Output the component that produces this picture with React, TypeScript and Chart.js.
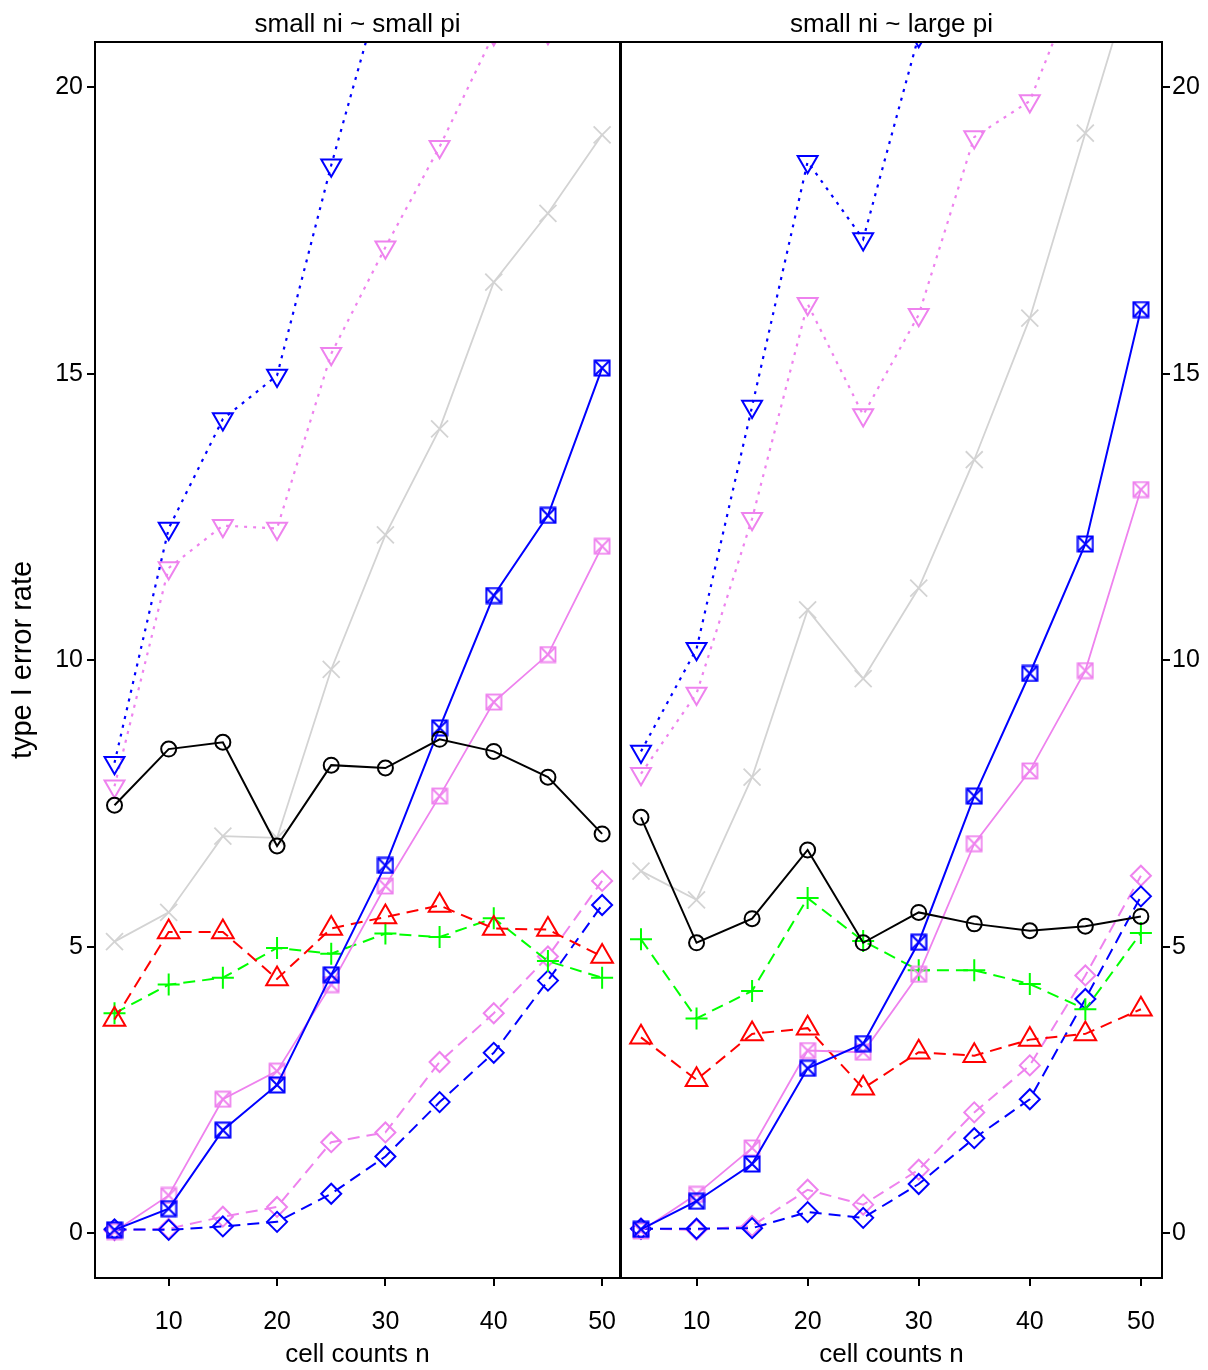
import React, { useEffect, useRef } from 'react';
import { Chart, registerables } from 'chart.js';

Chart.register(...registerables);

// ---------------- data ----------------
const cellCounts = [5, 10, 15, 20, 25, 30, 35, 40, 45, 50];
const xTickValues = [10, 20, 30, 40, 50];
const yTickValues = [0, 5, 10, 15, 20];
const panelTitles = ['small ni ~ small pi', 'small ni ~ large pi'];
const xAxisTitle = 'cell counts n';
const yAxisTitle = 'type I error rate';

// left panel: small ni ~ small pi
const leftCircle = [7.47, 8.45, 8.57, 6.76, 8.17, 8.12, 8.62, 8.41, 7.96, 6.97];
const leftCross = [5.09, 5.6, 6.93, 6.9, 9.84, 12.19, 14.04, 16.6, 17.8, 19.17];
const leftBlueDown = [8.21, 12.3, 14.21, 14.97, 18.64, 22.0, 24.1, 26.3, 27.9, 30.2];
const leftVioletDown = [7.8, 11.61, 12.35, 12.3, 15.35, 17.21, 18.96, 20.93, 20.95, 23.0];
const leftBlueSquare = [0.06, 0.43, 1.8, 2.59, 4.51, 6.42, 8.82, 11.13, 12.53, 15.1];
const leftVioletSquare = [0.03, 0.66, 2.34, 2.83, 4.34, 6.06, 7.63, 9.27, 10.1, 11.99];
const leftRedTri = [3.73, 5.26, 5.26, 4.44, 5.32, 5.52, 5.72, 5.32, 5.3, 4.83];
const leftGreenPlus = [3.84, 4.34, 4.46, 4.98, 4.88, 5.23, 5.17, 5.5, 4.75, 4.46];
const leftBlueDiamond = [0.07, 0.06, 0.12, 0.2, 0.69, 1.34, 2.29, 3.15, 4.41, 5.73];
const leftVioletDiamond = [0.05, 0.08, 0.29, 0.46, 1.59, 1.76, 2.99, 3.84, 4.83, 6.15];

// right panel: small ni ~ large pi
const rightCircle = [7.26, 5.07, 5.49, 6.69, 5.07, 5.6, 5.4, 5.28, 5.36, 5.53];
const rightCross = [6.32, 5.82, 7.96, 10.88, 9.68, 11.26, 13.5, 15.97, 19.2, 22.4];
const rightBlueDown = [8.41, 10.2, 14.43, 18.7, 17.35, 20.9, 23.5, 25.8, 27.6, 30.1];
const rightVioletDown = [8.02, 9.42, 12.47, 16.22, 14.28, 16.03, 19.13, 19.76, 22.2, 24.5];
const rightBlueSquare = [0.07, 0.56, 1.21, 2.88, 3.31, 5.08, 7.63, 9.77, 12.03, 16.12];
const rightVioletSquare = [0.04, 0.68, 1.49, 3.19, 3.16, 4.52, 6.8, 8.07, 9.82, 12.98];
const rightRedTri = [3.42, 2.68, 3.48, 3.58, 2.53, 3.16, 3.1, 3.38, 3.48, 3.91];
const rightGreenPlus = [5.13, 3.75, 4.23, 5.85, 5.1, 4.59, 4.59, 4.35, 3.91, 5.24];
const rightBlueDiamond = [0.08, 0.08, 0.09, 0.37, 0.27, 0.86, 1.66, 2.34, 4.09, 5.88];
const rightVioletDiamond = [0.08, 0.06, 0.13, 0.76, 0.5, 1.11, 2.11, 2.93, 4.5, 6.24];

// ---------------- styling ----------------
const FONT = '"Liberation Sans", Arial, Helvetica, sans-serif';
const BLUE = '#0000ff';
const VIOLET = '#ee82ee';
const RED = '#ff0000';
const GREEN = '#00ff00';
const GRAY = '#d3d3d3';
const BLACK = '#000000';
const DASHED = [12, 7];
const DOTTED = [3, 6];

function makeBoxX(color: string, lw: number): HTMLCanvasElement {
  const c = document.createElement('canvas');
  c.width = 18;
  c.height = 18;
  const g = c.getContext('2d')!;
  g.strokeStyle = color;
  g.lineWidth = lw;
  g.strokeRect(1.5, 1.5, 15, 15);
  g.beginPath();
  g.moveTo(1.5, 1.5);
  g.lineTo(16.5, 16.5);
  g.moveTo(16.5, 1.5);
  g.lineTo(1.5, 16.5);
  g.stroke();
  return c;
}

type Series = {
  values: number[];
  color: string;
  width: number;
  dash: number[];
  style: any;
  radius: number;
  rotation?: number;
  pointWidth?: number;
};

function buildDatasets(list: Series[]) {
  return list.map((s) => ({
    data: cellCounts.map((n, i) => ({ x: n, y: s.values[i] })),
    borderColor: s.color,
    borderWidth: s.width,
    borderDash: s.dash,
    backgroundColor: 'rgba(0,0,0,0)',
    pointStyle: s.style,
    pointRadius: s.radius,
    pointRotation: s.rotation || 0,
    pointBorderColor: s.color,
    pointBackgroundColor: 'rgba(0,0,0,0)',
    pointBorderWidth: s.pointWidth || s.width,
    tension: 0,
    fill: false,
  }));
}

function panelSeries(
  circle: number[], cross: number[], blueDown: number[], violetDown: number[],
  blueSq: number[], violetSq: number[], redTri: number[], greenPlus: number[],
  blueDia: number[], violetDia: number[], blueBox: HTMLCanvasElement, violetBox: HTMLCanvasElement
): Series[] {
  return [
    { values: circle, color: BLACK, width: 2, dash: [], style: 'circle', radius: 7.5 },
    { values: blueSq, color: BLUE, width: 2, dash: [], style: blueBox, radius: 8 },
    { values: violetSq, color: VIOLET, width: 1.8, dash: [], style: violetBox, radius: 8 },
    { values: redTri, color: RED, width: 2, dash: DASHED, style: 'triangle', radius: 12.5 },
    { values: greenPlus, color: GREEN, width: 2, dash: DASHED, style: 'cross', radius: 11 },
    { values: blueDia, color: BLUE, width: 2, dash: DASHED, style: 'rectRot', radius: 10 },
    { values: violetDia, color: VIOLET, width: 2, dash: DASHED, style: 'rectRot', radius: 10 },
    { values: blueDown, color: BLUE, width: 2.2, dash: DOTTED, style: 'triangle', radius: 11.5, rotation: 180, pointWidth: 2 },
    { values: violetDown, color: VIOLET, width: 2.2, dash: DOTTED, style: 'triangle', radius: 11.5, rotation: 180, pointWidth: 2 },
    { values: cross, color: GRAY, width: 1.8, dash: [], style: 'crossRot', radius: 12 },
  ];
}

function framePlugin(title: string) {
  return {
    id: 'panelFrame',
    afterDraw(chart: any) {
      const { ctx, chartArea: a } = chart;
      ctx.save();
      ctx.strokeStyle = BLACK;
      ctx.lineWidth = 2;
      ctx.setLineDash([]);
      ctx.strokeRect(a.left, a.top, a.right - a.left, a.bottom - a.top);
      ctx.font = `26px ${FONT}`;
      ctx.fillStyle = BLACK;
      ctx.textAlign = 'center';
      ctx.textBaseline = 'alphabetic';
      ctx.fillText(title, (a.left + a.right) / 2, 32);
      ctx.restore();
    },
  };
}

function makeConfig(side: 'left' | 'right', series: Series[], xMax: number) {
  const isLeft = side === 'left';
  return {
    type: 'line' as const,
    data: { datasets: buildDatasets(series) as any },
    plugins: [framePlugin(isLeft ? panelTitles[0] : panelTitles[1])],
    options: {
      responsive: false,
      animation: false as const,
      devicePixelRatio: 1,
      events: [],
      layout: {
        autoPadding: false,
        padding: isLeft ? { top: 42, right: 3, left: 0, bottom: 0 } : { top: 42, right: 0, left: 2, bottom: 0 },
      },
      plugins: { legend: { display: false }, tooltip: { enabled: false }, title: { display: false } },
      scales: {
        x: {
          type: 'linear' as const,
          position: 'bottom' as const,
          min: 3.2,
          max: xMax,
          afterBuildTicks: (s: any) => {
            s.ticks = xTickValues.map((v) => ({ value: v }));
          },
          afterFit: (s: any) => {
            s.height = 92;
            s.paddingLeft = 0;
            s.paddingRight = 0;
          },
          grid: { display: true, drawOnChartArea: false, drawTicks: true, tickLength: 8, color: BLACK, lineWidth: 2 },
          border: { display: false },
          ticks: {
            color: BLACK,
            padding: 21,
            maxRotation: 0,
            autoSkip: false,
            font: { family: FONT, size: 25 },
            callback: (v: any) => String(v),
          },
          title: {
            display: true,
            text: xAxisTitle,
            color: BLACK,
            font: { family: FONT, size: 26 },
            padding: { top: 0, bottom: 0 },
          },
        },
        y: {
          type: 'linear' as const,
          position: side,
          min: -0.78,
          max: 20.79,
          afterBuildTicks: (s: any) => {
            s.ticks = yTickValues.map((v) => ({ value: v }));
          },
          afterFit: (s: any) => {
            s.width = isLeft ? 95 : 46;
            s.paddingTop = 0;
            s.paddingBottom = 0;
          },
          grid: { display: true, drawOnChartArea: false, drawTicks: true, tickLength: 8, color: BLACK, lineWidth: 2 },
          border: { display: false },
          ticks: {
            color: BLACK,
            padding: isLeft ? 4 : 2,
            autoSkip: false,
            font: { family: FONT, size: 25 },
            callback: (v: any) => String(v),
          },
          title: {
            display: isLeft,
            text: yAxisTitle,
            color: BLACK,
            font: { family: FONT, size: 29 },
            padding: { top: 6, bottom: 0 },
          },
        },
      },
    },
  };
}

export default function App() {
  const leftRef = useRef<HTMLCanvasElement>(null);
  const rightRef = useRef<HTMLCanvasElement>(null);

  useEffect(() => {
    const blueBox = makeBoxX(BLUE, 2);
    const violetBox = makeBoxX(VIOLET, 1.8);
    const leftSeries = panelSeries(
      leftCircle, leftCross, leftBlueDown, leftVioletDown, leftBlueSquare, leftVioletSquare,
      leftRedTri, leftGreenPlus, leftBlueDiamond, leftVioletDiamond, blueBox, violetBox
    );
    const rightSeries = panelSeries(
      rightCircle, rightCross, rightBlueDown, rightVioletDown, rightBlueSquare, rightVioletSquare,
      rightRedTri, rightGreenPlus, rightBlueDiamond, rightVioletDiamond, blueBox, violetBox
    );
    const c1 = new Chart(leftRef.current!, makeConfig('left', leftSeries, 51.65) as any);
    const c2 = new Chart(rightRef.current!, makeConfig('right', rightSeries, 51.9) as any);
    return () => {
      c1.destroy();
      c2.destroy();
    };
  }, []);

  return (
    <div style={{ position: 'absolute', left: 0, top: 0, width: 1208, height: 1370, background: '#fff', overflow: 'hidden' }}>
      <canvas ref={leftRef} width={623} height={1370} style={{ position: 'absolute', left: 0, top: 0, width: 623, height: 1370 }} />
      <canvas ref={rightRef} width={589} height={1370} style={{ position: 'absolute', left: 619, top: 0, width: 589, height: 1370 }} />
    </div>
  );
}
